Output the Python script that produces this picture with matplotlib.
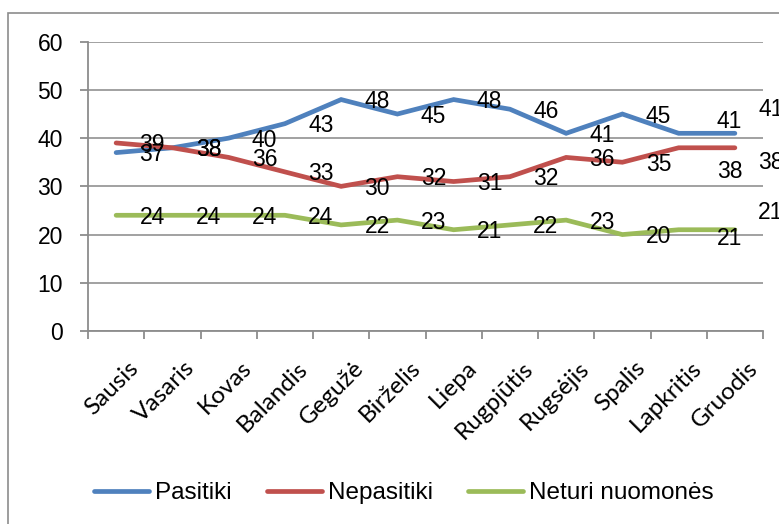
import matplotlib
matplotlib.use("Agg")
import matplotlib.pyplot as plt
import matplotlib.transforms as mtransforms
from matplotlib.patches import Rectangle

months = ["Sausis", "Vasaris", "Kovas", "Balandis", "Gegužė", "Birželis",
          "Liepa", "Rugpjūtis", "Rugsėjis", "Spalis", "Lapkritis", "Gruodis"]
pasitiki = [37, 38, 40, 43, 48, 45, 48, 46, 41, 45, 41, 41]
nepasitiki = [39, 38, 36, 33, 30, 32, 31, 32, 36, 35, 38, 38]
neturi = [24, 24, 24, 24, 22, 23, 21, 22, 23, 20, 21, 21]
series_names = ["Pasitiki", "Nepasitiki", "Neturi nuomonės"]
y_ticks = [0, 10, 20, 30, 40, 50, 60]

colors = ["#4F81BD", "#C0504D", "#9BBB59"]
# manual label displacements (pixels, dx right / dy up) for the moved labels
label_shift = {
    (0, 10): (15, 14), (0, 11): (0, 26),
    (1, 10): (15, -22), (1, 11): (0, -13),
    (2, 10): (15, -7), (2, 11): (0, 19),
}

W, H = 779, 524
DPI = 100
fig = plt.figure(figsize=(W / DPI, H / DPI), dpi=DPI)
num_font = "Liberation Sans"

# outer chart border
fig.patches.append(Rectangle((8 / W, -0.2), 1.2, 0.2 + (1 - 13 / H),
                             transform=fig.transFigure, fill=False,
                             edgecolor="#8c8c8c", linewidth=1.2))

ax = fig.add_axes([88 / W, 1 - 331 / H, (763 - 88) / W, (331 - 41.7) / H])
x = list(range(len(months)))
all_series = [pasitiki, nepasitiki, neturi]
lines = []
for si, (vals, c, name) in enumerate(zip(all_series, colors, series_names)):
    ln, = ax.plot(x, vals, color=c, linewidth=3.4, solid_capstyle="round",
                  solid_joinstyle="miter", label=name, zorder=3)
    lines.append(ln)
    for i, v in enumerate(vals):
        dx, dy = label_shift.get((si, i), (0, 0))
        ax.annotate(str(v), (i, v), xytext=((36 + dx) * 72 / DPI, (-2 + dy) * 72 / DPI),
                    textcoords="offset points", ha="center", va="center",
                    fontsize=16.5, family=num_font, color="black", zorder=4,
                    annotation_clip=False)

ax.set_xlim(-0.5, len(months) - 0.5)
ax.set_ylim(0, 60)
ax.set_yticks(y_ticks)
ax.yaxis.grid(True, color="#9a9a9a", linewidth=1.3)
ax.set_axisbelow(True)
for s in ["top", "right"]:
    ax.spines[s].set_visible(False)
for s in ["left", "bottom"]:
    ax.spines[s].set_color("#8c8c8c")
    ax.spines[s].set_linewidth(1.3)
ax.tick_params(axis="y", length=6, width=1.3, color="#8c8c8c", pad=12,
               labelsize=16.5)
for lab in ax.get_yticklabels():
    lab.set_family(num_font)

ax.set_xticks([i - 0.5 for i in range(len(months) + 1)], minor=False)
ax.set_xticklabels([])
ax.tick_params(axis="x", which="major", length=6, width=1.3, color="#8c8c8c")
ax.set_xticks(x, minor=True)
ax.set_xticklabels(months, minor=True, rotation=45, ha="right", va="top",
                   rotation_mode="anchor", fontsize=17.5, family="Lato")
ax.tick_params(axis="x", which="minor", length=0, pad=19)
offset = mtransforms.ScaledTranslation(12 / DPI, 0, fig.dpi_scale_trans)
for lab in ax.xaxis.get_minorticklabels():
    lab.set_transform(lab.get_transform() + offset)

leg = fig.legend(handles=lines, labels=series_names, loc="center",
                 bbox_to_anchor=(404 / W, 1 - 493 / H), ncol=3, frameon=False,
                 prop={"family": num_font, "size": 17.5}, handlelength=2.25,
                 handletextpad=0.25, columnspacing=1.45)
for h in leg.legend_handles:
    h.set_linewidth(3.4)

fig.savefig("out.png", dpi=DPI)
